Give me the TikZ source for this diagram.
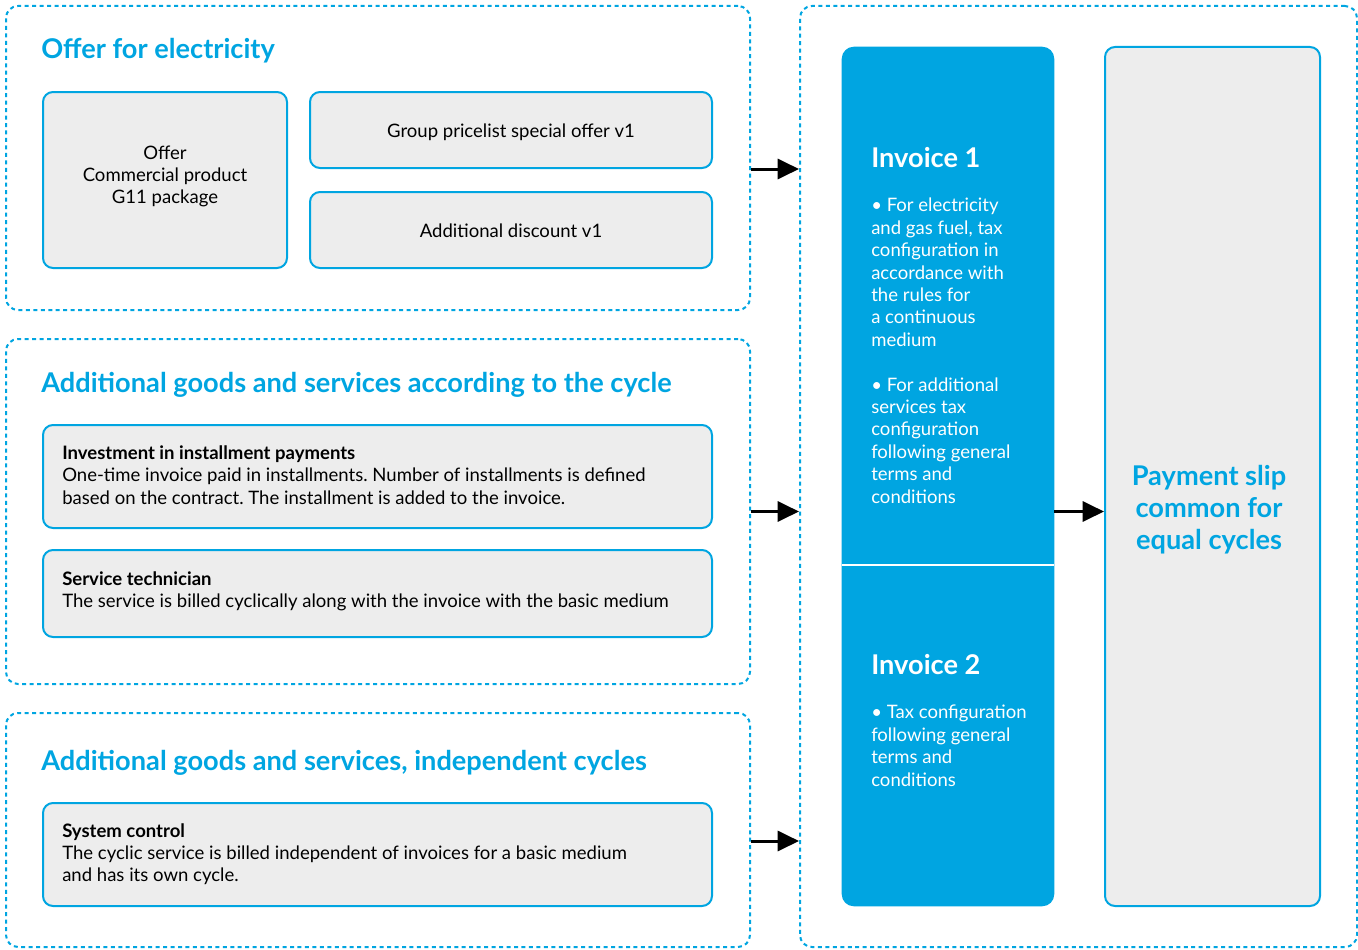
\documentclass[tikz,border=0pt]{standalone}
\usepackage{fontspec}
\setmainfont{Lato}
\frenchspacing
\usetikzlibrary{arrows.meta,positioning,fit,backgrounds}
\definecolor{billblue}{HTML}{00A5E1}
\definecolor{boxgrey}{HTML}{EDEDED}
\newcommand{\bodyfont}{\fontsize{13.9}{16.6}\selectfont}
\newcommand{\headfont}{\fontsize{20.4}{24}\selectfont\bfseries}
\tikzset{
    dotframe/.style={
        draw=billblue,
        line width=1.5pt,
        dash pattern=on 3pt off 2.6pt,
        rounded corners=9pt,
        inner sep=0,
    },
    greybox/.style={
        draw=billblue,
        line width=1.5pt,
        fill=boxgrey,
        rounded corners=7.5pt,
        inner sep=0,
    },
    boxtext/.style={
        inner sep=0,
        font=\bodyfont,
        align=center,
    },
    frametitle/.style={
        anchor=base west,
        inner sep=0,
        text=billblue,
        font=\headfont,
    },
    invtitle/.style={
        anchor=base west,
        inner sep=0,
        text=white,
        font=\headfont,
    },
    invbody/.style={
        anchor=north west,
        inner sep=0,
        text=white,
        font=\fontsize{13.9}{16.8}\selectfont,
        align=left,
    },
    flow/.style={
        -{Triangle[length=16pt,width=15pt]},
        line width=2.25pt,
    },
}

\begin{document}
\begin{tikzpicture}[x=0.75pt,y=-0.75pt]
    \useasboundingbox (0,0) rectangle (1358,949);

    % dotted frames
    \node[dotframe, fit={(6,6) (750,310)}] (offerframe) {};
    \node[dotframe, fit={(6,339) (750,684)}] (cycleframe) {};
    \node[dotframe, fit={(6,713) (750,947)}] (indepframe) {};
    \node[dotframe, fit={(800,6) (1357,947)}] (billframe) {};

    % offer for electricity
    \node[frametitle] (offertitle) at (41,59) {Offer for electricity};
    \node[greybox, fit={(43,92) (287,268)}] (offer) {};
    \node[boxtext] (offerlabel) at ([yshift=2.5pt]offer.center) {Offer\\Commercial product\\G11 package};
    \node[greybox, fit={(310,92) (712,168)}] (pricelist) {};
    \node[boxtext] (pricelistlabel) at ([yshift=-1.5pt]pricelist.center) {Group pricelist special offer v1};
    \node[greybox, fit={(310,192) (712,268)}] (discount) {};
    \node[boxtext] (discountlabel) at ([yshift=-0.75pt]discount.center) {Additional discount v1};

    % goods and services according to the cycle
    \node[frametitle] (cycletitle) at (41,392) {Additional goods and services according to the cycle};
    \node[greybox, fit={(43,425) (712,528)}] (invest) {};
    \node[boxtext, anchor=west, align=left] (investlabel) at ([xshift=15pt,yshift=1pt]invest.west)
        {\textbf{Investment in installment payments}\\
         One-time invoice paid in installments. Number of installments is defined\\
         based on the contract. The installment is added to the invoice.};
    \node[greybox, fit={(43,550) (712,637)}] (technician) {};
    \node[boxtext, anchor=west, align=left] (technicianlabel) at ([xshift=15pt,yshift=1.5pt]technician.west)
        {\textbf{Service technician}\\
         The service is billed cyclically along with the invoice with the basic medium};

    % independent cycles
    \node[frametitle] (indeptitle) at (41,770) {Additional goods and services, independent cycles};
    \node[greybox, fit={(43,803) (712,906)}] (control) {};
    \node[boxtext, anchor=west, align=left] (controllabel) at ([xshift=15pt,yshift=0.5pt]control.west)
        {\textbf{System control}\\
         The cyclic service is billed independent of invoices for a basic medium\\
         and has its own cycle.};

    % invoices
    \node[inner sep=0, fit={(842,47) (1054,565)}] (invoice1) {};
    \node[inner sep=0, fit={(842,566) (1054,906)}] (invoice2) {};
    \begin{scope}[on background layer]
        \fill[billblue, rounded corners=9pt] (invoice1.north west) rectangle (invoice2.south east);
    \end{scope}
    \draw[white, line width=1.5pt] (invoice1.south west) -- (invoice1.south east);
    \node[invtitle] (inv1title) at (871,167) {Invoice 1};
    \node[invbody] (inv1text) at (871,198)
        {\textbullet{} For electricity\\and gas fuel, tax\\configuration in\\accordance with\\
         the rules for\\a continuous\\medium\\[16.8pt]
         \textbullet{} For additional\\services tax\\configuration\\following general\\
         terms and\\conditions};
    \node[invtitle] (inv2title) at (871,674) {Invoice 2};
    \node[invbody] (inv2text) at (871,705)
        {\textbullet{} Tax configuration\\following general\\terms and\\conditions};

    % payment slip
    \node[greybox, fit={(1105,47) (1320,906)}] (slip) {};
    \node[align=center, text=billblue, font=\headfont] (sliptext) at (1209,510)
        {Payment slip\\common for\\equal cycles};

    % arrows
    \draw[flow] ([yshift=-8.25pt]offerframe.east) -- ([yshift=-8.25pt]offerframe.east -| billframe.west);
    \draw[flow] (cycleframe.east) -- (cycleframe.east -| billframe.west);
    \draw[flow] ([yshift=-8.25pt]indepframe.east) -- ([yshift=-8.25pt]indepframe.east -| billframe.west);
    \draw[flow] (invoice1.east |- cycleframe.east) -- (slip.west |- cycleframe.east);
\end{tikzpicture}
\end{document}
